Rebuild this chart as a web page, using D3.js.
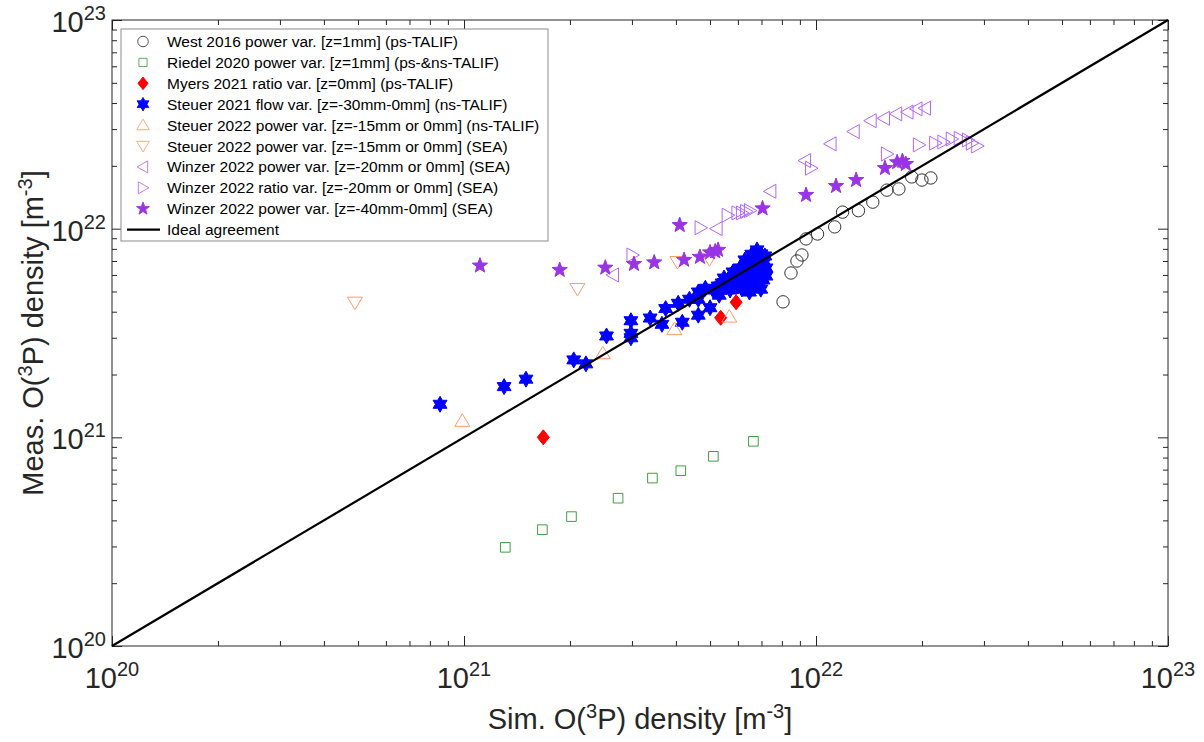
<!DOCTYPE html>
<html>
<head>
<meta charset="utf-8">
<script src="https://cdn.jsdelivr.net/npm/d3@7"></script>
<style>
  html, body { margin: 0; padding: 0; background: #fff; }
  svg { display: block; font-family: "Liberation Sans", Arial, Helvetica, sans-serif; }
</style>
</head>
<body>
<svg id="chart" width="1204" height="742"></svg>
<script>
// ---------------- DATA ----------------
const axisTickExponents = [20, 21, 22, 23];

const west2016X = [8.06e21, 8.49e21, 8.83e21, 9.12e21, 9.37e21, 1.01e22, 1.13e22, 1.19e22, 1.32e22, 1.45e22, 1.59e22, 1.72e22, 1.87e22, 2.00e22, 2.12e22];
const west2016Y = [4.46e21, 6.13e21, 7.00e21, 7.48e21, 8.93e21, 9.43e21, 1.02e22, 1.20e22, 1.22e22, 1.34e22, 1.53e22, 1.55e22, 1.77e22, 1.71e22, 1.75e22];

const riedel2020X = [1.31e21, 1.67e21, 2.02e21, 2.74e21, 3.43e21, 4.13e21, 5.11e21, 6.64e21];
const riedel2020Y = [2.97e20, 3.61e20, 4.17e20, 5.11e20, 6.38e20, 6.92e20, 8.11e20, 9.57e20];

const myers2021X = [1.68e21, 5.17e21, 5.36e21, 5.93e21];
const myers2021Y = [1.00e21, 5.18e21, 3.74e21, 4.44e21];

const steuer2021X = [8.55e20, 1.30e21, 1.50e21, 2.05e21, 2.22e21, 2.54e21, 2.98e21, 2.98e21, 2.98e21, 3.38e21,
  3.65e21, 3.74e21, 4.06e21, 4.17e21, 4.37e21, 4.63e21, 4.63e21, 4.63e21, 5.00e21, 4.85e21,
  5.31e21, 6.47e21, 6.97e21, 6.57e21,
  5.10e21, 5.27e21, 5.41e21, 5.55e21, 5.62e21, 5.77e21, 5.89e21, 5.96e21, 6.08e21, 6.16e21,
  6.24e21, 6.33e21, 6.41e21, 6.49e21, 6.58e21, 6.67e21, 6.75e21, 6.84e21, 6.93e21, 7.02e21,
  7.12e21, 7.16e21, 7.21e21, 6.84e21, 6.41e21, 6.00e21, 5.70e21, 6.28e21, 6.71e21, 7.07e21,
  7.21e21, 6.08e21, 5.81e21, 5.48e21, 6.16e21, 6.80e21, 6.98e21];
const steuer2021Y = [1.44e21, 1.75e21, 1.90e21, 2.35e21, 2.25e21, 3.06e21, 3.62e21, 3.15e21, 3.00e21, 3.73e21,
  3.48e21, 4.14e21, 4.39e21, 3.56e21, 4.59e21, 3.85e21, 4.59e21, 4.97e21, 4.18e21, 5.18e21,
  4.80e21, 4.97e21, 5.13e21, 7.54e21,
  5.08e21, 5.31e21, 5.49e21, 5.26e21, 5.68e21, 5.43e21, 5.80e21, 6.20e21, 5.93e21, 5.62e21,
  6.34e21, 6.07e21, 6.63e21, 5.74e21, 6.92e21, 6.34e21, 5.93e21, 7.24e21, 6.63e21, 6.20e21,
  6.92e21, 7.40e21, 6.48e21, 5.43e21, 5.37e21, 5.31e21, 5.08e21, 7.08e21, 7.32e21, 5.68e21,
  5.93e21, 6.48e21, 6.20e21, 5.80e21, 5.14e21, 7.91e21, 7.57e21];

const steuer2022TalifX = [9.89e20, 2.48e21, 3.96e21, 5.67e21];
const steuer2022TalifY = [1.20e21, 2.53e21, 3.30e21, 3.79e21];

const steuer2022SeaX = [4.90e20, 2.10e21, 4.04e21, 4.98e21];
const steuer2022SeaY = [4.42e21, 5.14e21, 6.92e21, 7.14e21];

const winzerPowerX = [2.65e21, 5.22e21, 7.42e21, 9.31e21, 1.10e22, 1.28e22, 1.43e22, 1.56e22, 1.69e22, 1.82e22, 1.93e22, 2.04e22];
const winzerPowerY = [6.00e21, 1.00e22, 1.51e22, 2.12e22, 2.55e22, 2.92e22, 3.29e22, 3.38e22, 3.55e22, 3.62e22, 3.75e22, 3.78e22];

const winzerRatioX = [3.01e21, 4.70e21, 5.61e21, 5.98e21, 6.16e21, 6.33e21, 6.49e21, 9.68e21, 1.59e22, 1.96e22, 2.18e22, 2.30e22, 2.43e22, 2.56e22, 2.70e22, 2.77e22, 2.87e22];
const winzerRatioY = [7.48e21, 1.01e22, 1.16e22, 1.19e22, 1.19e22, 1.21e22, 1.22e22, 1.95e22, 2.28e22, 2.52e22, 2.57e22, 2.60e22, 2.69e22, 2.71e22, 2.66e22, 2.57e22, 2.49e22];

const winzerPower40X = [1.11e21, 1.87e21, 2.52e21, 3.04e21, 3.47e21, 4.10e21, 4.22e21, 4.68e21, 5.00e21, 5.17e21, 5.27e21, 7.05e21, 9.37e21, 1.14e22, 1.30e22, 1.57e22, 1.70e22, 1.76e22, 1.80e22];
const winzerPower40Y = [6.65e21, 6.34e21, 6.50e21, 6.77e21, 6.89e21, 1.04e22, 7.08e21, 7.32e21, 7.69e21, 7.78e21, 7.91e21, 1.25e22, 1.45e22, 1.60e22, 1.71e22, 1.95e22, 2.08e22, 2.11e22, 2.04e22];

const idealX = [1e20, 1e23];
const idealY = [1e20, 1e23];

const seriesLabels = [
  "West 2016 power var. [z=1mm] (ps-TALIF)",
  "Riedel 2020 power var. [z=1mm] (ps-&ns-TALIF)",
  "Myers 2021 ratio var. [z=0mm] (ps-TALIF)",
  "Steuer 2021 flow var. [z=-30mm-0mm] (ns-TALIF)",
  "Steuer 2022 power var. [z=-15mm or 0mm] (ns-TALIF)",
  "Steuer 2022 power var. [z=-15mm or 0mm] (SEA)",
  "Winzer 2022 power var. [z=-20mm or 0mm] (SEA)",
  "Winzer 2022 ratio var. [z=-20mm or 0mm] (SEA)",
  "Winzer 2022 power var. [z=-40mm-0mm] (SEA)",
  "Ideal agreement"
];

// ---------------- LAYOUT ----------------
const W = 1204, H = 742;
const L = 112, R = 1168, T = 20, B = 646;
const axisColor = "#262626";

const svg = d3.select("#chart");
svg.append("rect").attr("width", W).attr("height", H).attr("fill", "#fff");

const x = d3.scaleLog().domain([1e20, 1e23]).range([L, R]);
const y = d3.scaleLog().domain([1e20, 1e23]).range([B, T]);

// ---------------- MARKER SHAPES ----------------
function polyPath(pts) { return "M" + pts.map(p => p[0].toFixed(2) + "," + p[1].toFixed(2)).join("L") + "Z"; }
const shapes = {
  circle: () => d3.symbol(d3.symbolCircle, Math.PI * 6.2 * 6.2)(),
  square: () => polyPath([[-4.8, -4.8], [4.8, -4.8], [4.8, 4.8], [-4.8, 4.8]]),
  diamond: () => polyPath([[0, -7.5], [6, 0], [0, 7.5], [-6, 0]]),
  triUp: () => polyPath([[0, -7], [7.5, 5.5], [-7.5, 5.5]]),
  triDown: () => polyPath([[0, 7], [7.5, -5.5], [-7.5, -5.5]]),
  triLeft: () => polyPath([[-7, 0], [5.5, -7], [5.5, 7]]),
  triRight: () => polyPath([[7, 0], [-5.5, -7], [-5.5, 7]]),
  hexagram: () => {
    const r = 8, pts = [];
    for (let i = 0; i < 12; i++) {
      const rr = i % 2 === 0 ? r : r / Math.sqrt(3);
      const a = -Math.PI / 2 + i * Math.PI / 6;
      pts.push([rr * Math.cos(a), rr * Math.sin(a)]);
    }
    return polyPath(pts);
  },
  star: () => {
    const r = 8, ri = 3.3, pts = [];
    for (let i = 0; i < 10; i++) {
      const rr = i % 2 === 0 ? r : ri;
      const a = -Math.PI / 2 + i * Math.PI / 5;
      pts.push([rr * Math.cos(a), rr * Math.sin(a)]);
    }
    return polyPath(pts);
  }
};

const series = [
  { xs: west2016X, ys: west2016Y, shape: "circle", fill: "none", stroke: "#333333", sw: 1 },
  { xs: riedel2020X, ys: riedel2020Y, shape: "square", fill: "none", stroke: "#3fa03f", sw: 1 },
  { xs: myers2021X, ys: myers2021Y, shape: "diamond", fill: "#ff0000", stroke: "#ff0000", sw: 1 },
  { xs: steuer2021X, ys: steuer2021Y, shape: "hexagram", fill: "#0000ff", stroke: "#0000ff", sw: 1 },
  { xs: steuer2022TalifX, ys: steuer2022TalifY, shape: "triUp", fill: "none", stroke: "#ff9c66", sw: 1 },
  { xs: steuer2022SeaX, ys: steuer2022SeaY, shape: "triDown", fill: "none", stroke: "#ff9c66", sw: 1 },
  { xs: winzerPowerX, ys: winzerPowerY, shape: "triLeft", fill: "none", stroke: "#b266ff", sw: 1 },
  { xs: winzerRatioX, ys: winzerRatioY, shape: "triRight", fill: "none", stroke: "#b266ff", sw: 1 },
  { xs: winzerPower40X, ys: winzerPower40Y, shape: "star", fill: "#9933e6", stroke: "#9933e6", sw: 1 }
];

// ---------------- AXES (box with ticks on all four sides) ----------------
const majorTicks = axisTickExponents.map(e => Math.pow(10, e));
const minorTicks = [];
for (let e = 20; e < 23; e++) for (let m = 2; m <= 9; m++) minorTicks.push(m * Math.pow(10, e));

const axes = svg.append("g");
function drawTicks(axisFn, scale, transform) {
  const g = axes.append("g").attr("transform", transform);
  g.call(axisFn(scale).tickValues(majorTicks).tickSize(-10).tickFormat(""));
  g.append("g").call(axisFn(scale).tickValues(minorTicks).tickSize(-5).tickFormat(""));
  g.selectAll(".domain").remove();
  g.selectAll("line").attr("stroke", axisColor).attr("stroke-width", 1);
}
drawTicks(d3.axisBottom, x, `translate(0,${B})`);
drawTicks(d3.axisTop, x, `translate(0,${T})`);
drawTicks(d3.axisLeft, y, `translate(${L},0)`);
drawTicks(d3.axisRight, y, `translate(${R},0)`);

axes.append("rect").attr("x", L).attr("y", T).attr("width", R - L).attr("height", B - T)
  .attr("fill", "none").attr("stroke", axisColor).attr("stroke-width", 1);

// Tick labels (10^n)
const tickFont = 29, supFont = 20;
function powLabel(sel, e) {
  sel.append("tspan").text("10");
  sel.append("tspan").attr("dy", -12).attr("font-size", supFont).text(String(e));
}
axisTickExponents.forEach(e => {
  const t = svg.append("text").attr("x", x(Math.pow(10, e))).attr("y", B + 42)
    .attr("text-anchor", "middle").attr("font-size", tickFont).attr("fill", axisColor);
  powLabel(t, e);
  const t2 = svg.append("text").attr("x", L - 6).attr("y", y(Math.pow(10, e)) + 12)
    .attr("text-anchor", "end").attr("font-size", tickFont).attr("fill", axisColor);
  powLabel(t2, e);
});

// Axis titles
const titleFont = 29, titleSup = 20;
function titleText(sel, lead) {
  sel.append("tspan").text(lead + " O(");
  sel.append("tspan").attr("dy", -11).attr("font-size", titleSup).text("3");
  sel.append("tspan").attr("dy", 11).text("P) density [m");
  sel.append("tspan").attr("dy", -11).attr("font-size", titleSup).text("-3");
  sel.append("tspan").attr("dy", 11).text("]");
}
const xt = svg.append("text").attr("x", (L + R) / 2).attr("y", 729).attr("text-anchor", "middle")
  .attr("font-size", titleFont).attr("fill", axisColor);
titleText(xt, "Sim.");

const yt = svg.append("text").attr("transform", `translate(43,${(T + B) / 2}) rotate(-90)`)
  .attr("text-anchor", "middle").attr("font-size", titleFont).attr("fill", axisColor);
titleText(yt, "Meas.");

// ---------------- MARKERS ----------------
const plot = svg.append("g");
series.forEach(s => {
  const d = s.xs.map((v, i) => [v, s.ys[i]]);
  plot.append("g").selectAll("path").data(d).join("path")
    .attr("d", shapes[s.shape]())
    .attr("transform", p => `translate(${x(p[0])},${y(p[1])})`)
    .attr("fill", s.fill).attr("stroke", s.stroke).attr("stroke-width", s.sw);
});

// Ideal agreement line (drawn over markers)
const line = d3.line().x(d => x(d[0])).y(d => y(d[1]));
plot.append("path").datum(idealX.map((v, i) => [v, idealY[i]]))
  .attr("d", line).attr("stroke", "#000").attr("stroke-width", 2.2).attr("fill", "none");

// ---------------- LEGEND ----------------
const lg = svg.append("g");
const lgX = 121, lgY = 29, lgW = 427, lgH = 212;
lg.append("rect").attr("x", lgX).attr("y", lgY).attr("width", lgW).attr("height", lgH)
  .attr("fill", "#fff").attr("stroke", "#8c8c8c").attr("stroke-width", 1);
const rowY0 = 41.5, rowDy = 20.9;
seriesLabels.forEach((lab, i) => {
  const cy = rowY0 + i * rowDy;
  if (i < series.length) {
    const s = series[i];
    lg.append("path").attr("d", shapes[s.shape]())
      .attr("transform", `translate(143,${cy}) scale(0.85)`)
      .attr("fill", s.fill).attr("stroke", s.stroke).attr("stroke-width", s.sw);
  } else {
    lg.append("line").attr("x1", 127).attr("x2", 160).attr("y1", cy).attr("y2", cy)
      .attr("stroke", "#000").attr("stroke-width", 2.2);
  }
  lg.append("text").attr("x", 167).attr("y", cy + 5.5).attr("font-size", 15.5).attr("fill", "#000").text(lab);
});
</script>
</body>
</html>
